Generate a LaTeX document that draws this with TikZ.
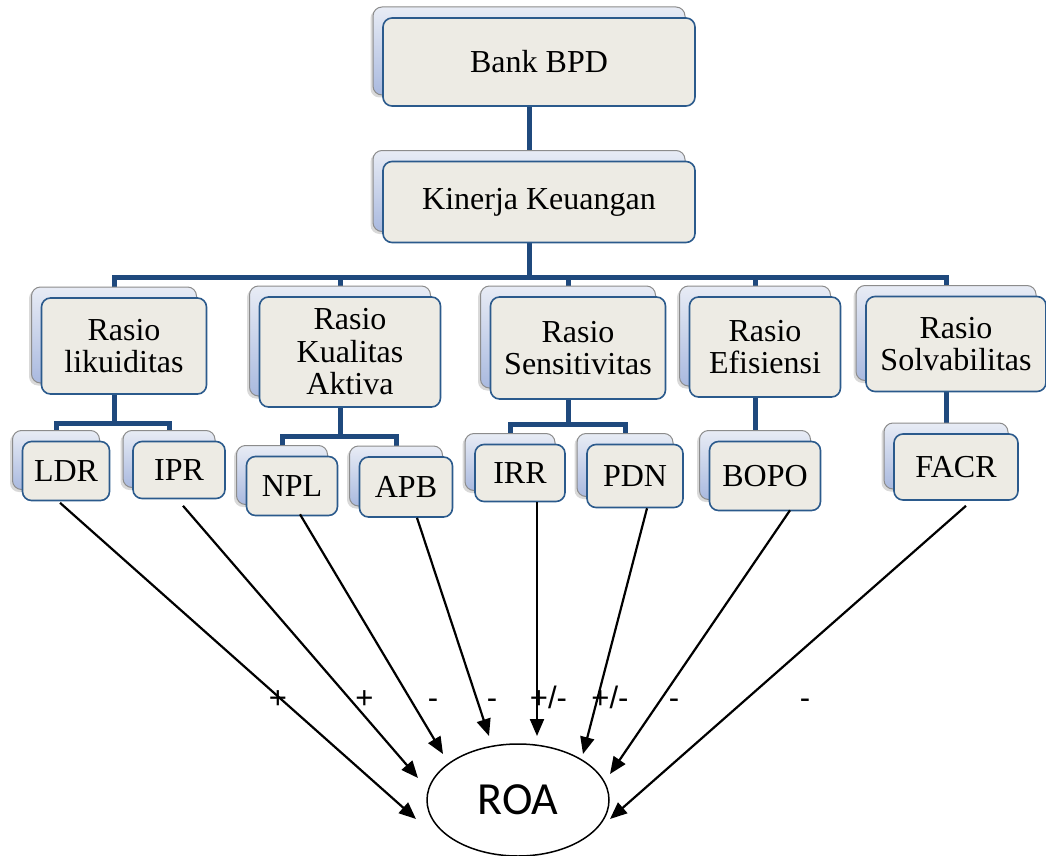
\documentclass[tikz,border=0pt]{standalone}
\usepackage{fontspec}
\setmainfont{Liberation Serif}
\newfontfamily\calfont{Carlito}
\newfontfamily\arialfont{Liberation Sans}
\usetikzlibrary{arrows.meta,shadows,backgrounds,shapes.geometric}
\definecolor{frontfill}{HTML}{EDEBE4}
\definecolor{frontline}{HTML}{2B5A8C}
\definecolor{backtop}{HTML}{E8ECF5}
\definecolor{backbot}{HTML}{A9B9DF}
\definecolor{backline}{HTML}{8C8C8C}
\definecolor{connc}{HTML}{1F497D}
\newcommand{\stackbox}[6]{%
  \node[backbox, minimum width=#4pt, minimum height=#5pt] (#1B) at (#2,#3) {};
  \node[frontbox, minimum width=#4pt, minimum height=#5pt] (#1) at (#2+10,#3+11) {#6};}
\begin{document}
\begin{tikzpicture}[x=1pt,y=-1pt,
  backbox/.style={draw=backline, line width=1pt, rounded corners=9pt,
    top color=backtop, bottom color=backbot,
    drop shadow={shadow xshift=-2.5pt,shadow yshift=-2.5pt,opacity=0.3},
    inner sep=0pt},
  frontbox/.style={draw=frontline, line width=1.6pt, rounded corners=9pt,
    fill=frontfill, inner sep=0pt, align=center,
    font=\fontsize{32}{32.5}\selectfont},
  conn/.style={draw=connc, line width=5pt},
  arr/.style={draw=black, line width=2.2pt, -{Triangle[length=17pt,width=14pt]}},
  lbl/.style={font=\arialfont\fontsize{31}{31}\selectfont, inner sep=0pt, anchor=base}]
\useasboundingbox (0,0) rectangle (1046,856);

\stackbox{bank}{529}{51}{312}{88}{Bank BPD}
\stackbox{kin}{529}{191}{312}{81}{Kinerja Keuangan}
\stackbox{liq}{114}{335}{165}{96}{Rasio\\likuiditas}
\stackbox{kua}{340}{341}{181}{110}{Rasio\\Kualitas\\Aktiva}
\stackbox{sen}{568}{337}{175}{102}{Rasio\\Sensitivitas}
\stackbox{efi}{755}{336}{151}{100}{Rasio\\Efisiensi}
\stackbox{sol}{946}{333}{180}{95}{Rasio\\Solvabilitas}
\stackbox{ldr}{56}{460}{87}{59}{LDR}
\stackbox{ipr}{169}{459}{92}{57}{IPR}
\stackbox{npl}{282}{475}{91}{59}{NPL}
\stackbox{apb}{396}{476}{93}{60}{APB}
\stackbox{irr}{510}{462}{90}{57}{IRR}
\stackbox{pdn}{625}{465}{96}{63}{PDN}
\stackbox{bopo}{755}{465}{111}{69}{BOPO}
\stackbox{facr}{946}{456}{124}{66}{FACR}

\node[draw=black, line width=1.5pt, ellipse, minimum width=182pt, minimum height=112pt,
  inner sep=0pt, font=\calfont\fontsize{46}{46}\selectfont] (roa) at (518,800) {ROA};

\coordinate (bus1) at (0,277);
\coordinate (bus2) at (0,423);
\coordinate (bus3) at (0,436);
\coordinate (bus4) at (0,424);

\begin{scope}[on background layer]
  \draw[conn] (bankB.center) -- (kinB.center);
  \draw[conn] (kinB.center) -- (kinB |- bus1);
  \draw[conn, line join=miter] (liqB.center) -- (liqB |- bus1) -- (solB |- bus1) -- (solB.center);
  \draw[conn] (kuaB.center) -- (kuaB |- bus1);
  \draw[conn] (senB.center) -- (senB |- bus1);
  \draw[conn] (efiB.center) -- (efiB |- bus1);
  \draw[conn] (liqB.center) -- (liqB |- bus2);
  \draw[conn, line join=miter] (ldrB.center) -- (ldrB |- bus2) -- (iprB |- bus2) -- (iprB.center);
  \draw[conn] (kuaB.center) -- (kuaB |- bus3);
  \draw[conn, line join=miter] (nplB.center) -- (nplB |- bus3) -- (apbB |- bus3) -- (apbB.center);
  \draw[conn] (senB.center) -- (senB |- bus4);
  \draw[conn, line join=miter] (irrB.center) -- (irrB |- bus4) -- (pdnB |- bus4) -- (pdnB.center);
  \draw[conn] (efiB.center) -- (bopoB.center);
  \draw[conn] (solB.center) -- (facrB.center);
\end{scope}

\draw[arr] ([shift={(-6,1.5)}]ldr.south) -- ([shift={(-102,19)}]roa.center);
\draw[arr] ([shift={(4,6.5)}]ipr.south) -- ([shift={(-100,-22)}]roa.center);
\draw[arr] ([shift={(8,-2)}]npl.south) -- ([shift={(-75,-46)}]roa.center);
\draw[arr] ([shift={(11,0)}]apb.south) -- ([shift={(-29,-64)}]roa.center);
\draw[arr] ([shift={(17,0)}]irr.south) -- ([shift={(19,-64)}]roa.center);
\draw[arr] ([shift={(12,0)}]pdn.south) -- ([shift={(65,-46)}]roa.center);
\draw[arr] ([shift={(25,-1)}]bopo.south) -- ([shift={(92,-26)}]roa.center);
\draw[arr] ([shift={(10,5)}]facr.south) -- ([shift={(92,19)}]roa.center);

\node[lbl] (l1) at (278,708) {+};
\node[lbl] (l2) at (364.5,708) {+};
\node[lbl] (l3) at (433,708) {-};
\node[lbl] (l4) at (492,708) {-};
\node[lbl] (l5) at (548.5,708) {+/-};
\node[lbl] (l6) at (610,708) {+/-};
\node[lbl] (l7) at (674,708) {-};
\node[lbl] (l8) at (805,708) {-};
\end{tikzpicture}
\end{document}
